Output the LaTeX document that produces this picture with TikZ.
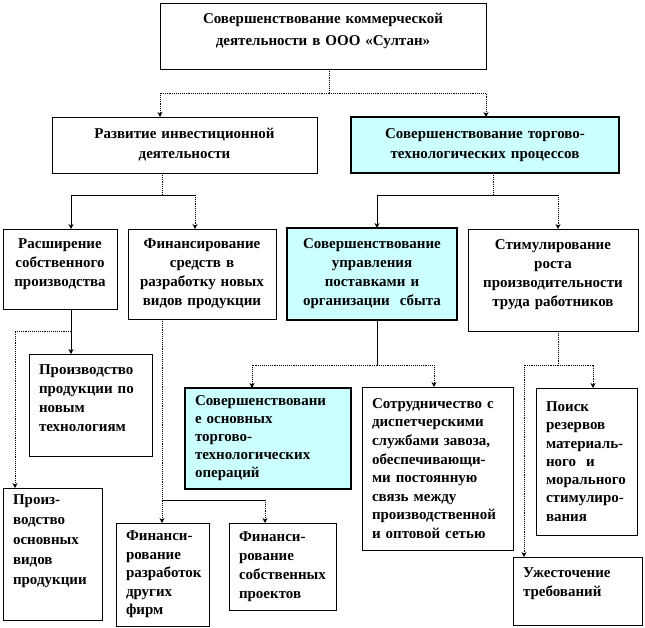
\documentclass[tikz,border=0pt]{standalone}
\usepackage{fontspec}
\setmainfont{Liberation Serif}
\usepackage{xcolor}
\usetikzlibrary{
    arrows.meta
}
\definecolor{lightcyan}{HTML}{CCFFFF}
\newcommand{\extradepth}[1]{\rule[-#1]{0pt}{#1}}

\begin{document}
\begin{tikzpicture}[
        x=1pt, y=-1pt,
        >={Stealth[length=5pt,width=5pt]},
        box/.style={
            draw,
            line width=0.7pt,
            anchor=north west,
            outer sep=0pt,
            inner xsep=4pt,
            inner ysep=2pt,
            align=center,
            font=\fontsize{15}{19}\selectfont\bfseries
        },
        leftbox/.style={box, inner xsep=10pt, align=left},
        keybox/.style={fill=lightcyan, line width=1.8pt},
        dotlink/.style={densely dotted, line width=0.9pt},
        link/.style={line width=0.7pt}
    ]
    \useasboundingbox (0,0) rectangle (645,628);

    % level 0
    \node[box, text width=318pt, minimum height=66pt,
        font=\fontsize{15}{22}\selectfont\bfseries] (top) at (160,3)
        {Совершенствование коммерческой\\деятельности в ООО «Султан»\extradepth{14pt}};

    % level 1
    \node[box, text width=257pt, minimum height=56pt,
        font=\fontsize{15}{20}\selectfont\bfseries] (inv) at (52,117)
        {Развитие инвестиционной\\деятельности};
    \node[box, keybox, text width=260pt, minimum height=56pt,
        font=\fontsize{15}{20}\selectfont\bfseries] (trade) at (351,117)
        {Совершенствование торгово-\\технологических процессов};

    % level 2
    \node[box, text width=106pt, minimum height=80pt] (ras) at (3,229)
        {Расширение\\собственного\\производства\extradepth{13pt}};
    \node[box, text width=140pt, minimum height=90pt] (fin) at (128,229)
        {Финансирование\\средств в\\разработку новых\\видов продукции};
    \node[box, keybox, text width=162pt, minimum height=92pt] (upr) at (287,228)
        {Совершенствование\\управления\\поставками и\\организации~ сбыта};
    \node[box, text width=162pt, minimum height=102pt] (stim) at (468,229)
        {Стимулирование\\роста\\производительности\\труда работников\extradepth{13pt}};

    % level 3
    \node[leftbox, text width=103pt, minimum height=102pt] (prodnew) at (29,354)
        {Производство\\продукции по\\новым\\технологиям\extradepth{14pt}};
    \node[leftbox, keybox, text width=146pt, minimum height=101pt,
        font=\fontsize{15}{18}\selectfont\bfseries] (oper) at (185,388)
        {Совершенствовани\\е основных\\торгово-\\технологических\\операций};
    \node[leftbox, text width=131pt, minimum height=163pt,
        font=\fontsize{15}{18.6}\selectfont\bfseries] (coop) at (362,387)
        {Сотрудничество с\\диспетчерскими\\службами завоза,\\обеспечивающи-\\ми постоянную\\связь между\\производственной\\и оптовой сетью};
    \node[leftbox, text width=81pt, minimum height=147pt,
        font=\fontsize{15}{18.3}\selectfont\bfseries] (search) at (536,388)
        {Поиск\\резервов\\материаль-\\ного~ и\\морального\\стимулиро-\\вания};

    % level 4
    \node[leftbox, text width=79pt, minimum height=132pt,
        font=\fontsize{15}{20}\selectfont\bfseries] (prodmain) at (3,488)
        {Произ-\\водство\\основных\\видов\\продукции\extradepth{28pt}};
    \node[leftbox, text width=73pt, minimum height=103pt,
        font=\fontsize{15}{18.5}\selectfont\bfseries] (finother) at (116,523)
        {Финанси-\\рование\\разработок\\других\\фирм};
    \node[leftbox, text width=87pt, minimum height=87pt] (finown) at (229,523)
        {Финанси-\\рование\\собственных\\проектов};
    \node[leftbox, text width=109pt, minimum height=68pt] (tight) at (513,557)
        {Ужесточение\\требований\extradepth{17pt}};

    % junctions
    \coordinate (tv) at (329,93);
    \coordinate (tl) at (160,93);
    \coordinate (tr) at (486,93);
    \coordinate (iv) at (162,195);
    \coordinate (il) at (71,195);
    \coordinate (ir) at (195,195);
    \coordinate (pv) at (493,195);
    \coordinate (pl) at (377,195);
    \coordinate (pr) at (558,195);
    \coordinate (rv) at (71,331);
    \coordinate (rl) at (15,331);
    \coordinate (fl) at (162,500);
    \coordinate (fr) at (265,500);
    \coordinate (uv) at (377,365);
    \coordinate (ul) at (252,365);
    \coordinate (ur) at (434,365);
    \coordinate (sv) at (558,365);
    \coordinate (sl) at (524,365);
    \coordinate (sr) at (593,365);

    % connectors
    \draw[dotlink] (top.south -| tv) -- (tv);
    \draw[dotlink,->] (tv) -- (tl) -- (tl |- inv.north);
    \draw[dotlink,->] (tv) -- (tr) -- (tr |- trade.north);

    \draw[dotlink] (inv.south -| iv) -- (iv);
    \draw[link] (il) -- (ir);
    \draw[link,->] (il) -- (il |- ras.north);
    \draw[dotlink,->] (ir) -- (ir |- fin.north);

    \draw[dotlink] (trade.south -| pv) -- (pv);
    \draw[link] (pl) -- (pr);
    \draw[link,->] (pl) -- (pl |- upr.north);
    \draw[dotlink,->] (pr) -- (pr |- stim.north);

    \draw[link,->] (ras.south -| rv) -- (rv |- prodnew.north);
    \draw[dotlink,->] (rv) -- (rl) -- (rl |- prodmain.north);

    \draw[dotlink,->] (fin.south -| fl) -- (fl |- finother.north);
    \draw[link] (fl) -- (fr);
    \draw[dotlink,->] (fr) -- (fr |- finown.north);

    \draw[link] (upr.south -| uv) -- (uv);
    \draw[dotlink,->] (uv) -- (ul) -- (ul |- oper.north);
    \draw[dotlink,->] (uv) -- (ur) -- (ur |- coop.north);

    \draw[dotlink] (stim.south -| sv) -- (sv);
    \draw[dotlink,->] (sv) -- (sr) -- (sr |- search.north);
    \draw[dotlink,->] (sv) -- (sl) -- (sl |- tight.north);
\end{tikzpicture}
\end{document}
